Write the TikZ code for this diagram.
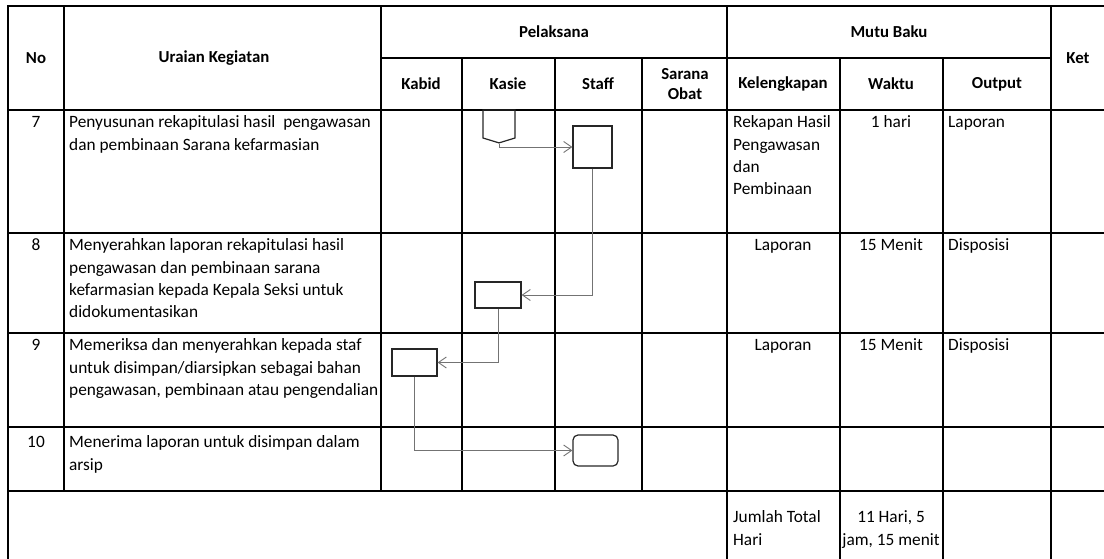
\documentclass[tikz,border=0pt]{standalone}
\usepackage{fontspec}
\setmainfont{Carlito}
\usetikzlibrary{arrows.meta,shapes.symbols}

\begin{document}
\begin{tikzpicture}[x=1pt,y=-1pt,
  grid/.style={line width=2.4pt,line cap=rect},
  head/.style={font=\bfseries\fontsize{16.8}{20}\selectfont,align=center,inner sep=0pt},
  cell/.style={anchor=north west,inner sep=0pt,align=left,font=\fontsize{17.3}{22.3}\selectfont},
  mid/.style={cell,anchor=north,align=center},
  proc/.style={draw=black!85,line width=1.2pt,inner sep=0pt},
  offpage/.style={proc,signal,signal to=south,signal pointer angle=146,minimum width=32pt,minimum height=28pt},
  flow/.style={draw=black!55,line width=0.9pt,-{Straight Barb[length=8pt,width=11pt]}}]
\useasboundingbox (0,0) rectangle (1104,559);
\draw[grid] (8,6) -- (1104,6);
\draw[grid] (381,58) -- (1051,58);
\draw[grid] (8,110) -- (1104,110);
\draw[grid] (8,233) -- (1104,233);
\draw[grid] (8,333) -- (1104,333);
\draw[grid] (8,427) -- (1104,427);
\draw[grid] (8,491) -- (1104,491);
\draw[grid] (8,6) -- (8,559);
\draw[grid] (64,6) -- (64,491);
\draw[grid] (381,6) -- (381,491);
\draw[grid] (462,58) -- (462,491);
\draw[grid] (555,58) -- (555,491);
\draw[grid] (642,58) -- (642,491);
\draw[grid] (727,6) -- (727,559);
\draw[grid] (840,58) -- (840,559);
\draw[grid] (943,58) -- (943,559);
\draw[grid] (1051,6) -- (1051,559);

\node[head] (no) at (36,58) {No};
\node[head] (uraian) at (214,58) {Uraian Kegiatan};
\node[head] (pelaksana) at (554,32) {Pelaksana};
\node[head] (mutu) at (889,32) {Mutu Baku};
\node[head] (ket) at (1078,58) {Ket};
\node[head] (kabid) at (421,84) {Kabid};
\node[head] (kasie) at (508,84) {Kasie};
\node[head] (staff) at (598,84) {Staff};
\node[head] (sarana) at (685,84) {Sarana\\Obat};
\node[head] (lengkap) at (783,84) {Kelengkapan};
\node[head] (waktu) at (891,84) {Waktu};
\node[head] (output) at (997,84) {Output};

\node[mid] (no7) at (36,112) {\strut 7};
\node[cell] (ur7) at (69,112) {\strut Penyusunan rekapitulasi hasil\ \ pengawasan\\dan pembinaan Sarana kefarmasian};
\node[cell] (kl7) at (733,112) {\strut Rekapan Hasil\\Pengawasan\\dan\\Pembinaan};
\node[mid] (wk7) at (891,112) {\strut 1 hari};
\node[cell] (op7) at (948,112) {\strut Laporan};

\node[mid] (no8) at (36,235) {\strut 8};
\node[cell] (ur8) at (69,235) {\strut Menyerahkan laporan rekapitulasi hasil\\pengawasan dan pembinaan sarana\\kefarmasian kepada Kepala Seksi untuk\\didokumentasikan};
\node[mid] (kl8) at (783,235) {\strut Laporan};
\node[mid] (wk8) at (891,235) {\strut 15 Menit};
\node[cell] (op8) at (948,235) {\strut Disposisi};

\node[mid] (no9) at (36,335) {\strut 9};
\node[cell] (ur9) at (69,335) {\strut Memeriksa dan menyerahkan kepada staf\\untuk disimpan/diarsipkan sebagai bahan\\pengawasan, pembinaan atau pengendalian};
\node[mid] (kl9) at (783,335) {\strut Laporan};
\node[mid] (wk9) at (891,335) {\strut 15 Menit};
\node[cell] (op9) at (948,335) {\strut Disposisi};

\node[mid] (no10) at (36,432) {\strut 10};
\node[cell] (ur10) at (69,432) {\strut Menerima laporan untuk disimpan dalam\\arsip};

\node[cell] (jumlah) at (733,507) {\strut Jumlah Total\\Hari};
\node[mid] (total) at (891,507) {\strut 11 Hari, 5\\jam, 15 menit};

\node[offpage] (s7a) at (499,124) {};
\node[proc,minimum width=39pt,minimum height=42pt] (s7b) at (592.5,147) {};
\node[proc,minimum width=46pt,minimum height=26pt] (s8) at (498,295) {};
\node[proc,minimum width=45pt,minimum height=27pt] (s9) at (414.5,362.5) {};
\node[proc,rounded corners=5pt,minimum width=45pt,minimum height=31pt] (s10) at (595.5,450.5) {};

\path[flow]
(s7a.south) |- (s7b.west);
\path[flow]
(s7b.south) |- (s8.east);
\path[flow]
(s8.south) |- (s9.east);
\path[flow]
(s9.south) |- (s10.west);
\end{tikzpicture}
\end{document}
